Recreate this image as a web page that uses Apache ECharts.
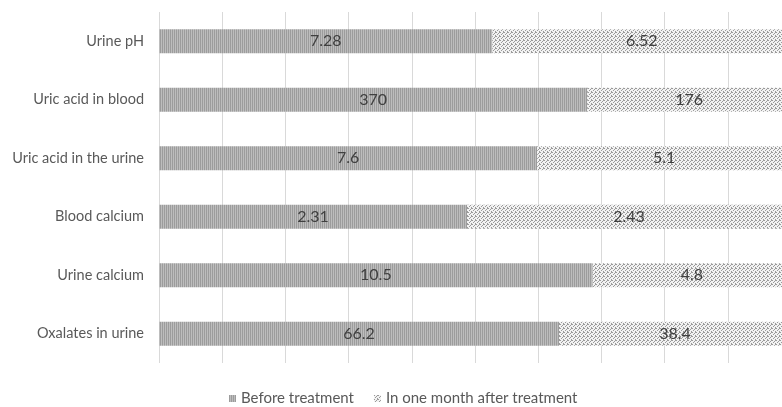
<!DOCTYPE html>
<html>
<head>
<meta charset="utf-8">
<script src="https://cdn.jsdelivr.net/npm/echarts@6/dist/echarts.min.js"></script>
<style>
  html, body { margin: 0; padding: 0; background: #fff; }
  #chart { width: 782px; height: 407px; }
</style>
</head>
<body>
<div id="chart"></div>
<script>
var categories = ['Urine pH', 'Uric acid in blood', 'Uric acid in the urine', 'Blood calcium', 'Urine calcium', 'Oxalates in urine'];
var before = [7.28, 370, 7.6, 2.31, 10.5, 66.2];
var after = [6.52, 176, 5.1, 2.43, 4.8, 38.4];

// little hatch tiles, like the office fill patterns
function makeTile(size, bg, fg, cells) {
    var c = document.createElement('canvas');
    c.width = size; c.height = size;
    var ctx = c.getContext('2d');
    ctx.fillStyle = bg;
    ctx.fillRect(0, 0, size, size);
    ctx.fillStyle = fg;
    cells.forEach(function (p) { ctx.fillRect(p[0], p[1], 1, 1); });
    return c;
}
var beforeTile = makeTile(2, '#bdbdbd', '#9c9c9c', [[0, 0], [0, 1]]);
var afterTile = makeTile(4, '#f2f2f2', '#9a9a9a', [[0, 0], [2, 1], [1, 2], [3, 3], [3, 0]]);

function pct(a, b, i) { return a[i] / (before[i] + after[i]) * 100; }

var beforeData = before.map(function (v, i) { return { value: pct(before, after, i), raw: v }; });
var afterData = after.map(function (v, i) { return { value: pct(after, before, i), raw: v }; });

var labelStyle = {
    show: true,
    position: 'inside',
    color: '#404040',
    fontSize: 16,
    fontFamily: 'Lato',
    formatter: function (p) { return p.data.raw; }
};

var chart = echarts.init(document.getElementById('chart'));
chart.setOption({
    animation: false,
    grid: { left: 159, top: 12, right: -9, height: 351, outerBoundsMode: 'none', containLabel: false },
    legend: {
        left: 224,
        top: 386,
        itemWidth: 7,
        itemHeight: 7,
        itemGap: 20,
        icon: 'rect',
        textStyle: { color: '#595959', fontSize: 15, fontFamily: 'Lato' },
        data: ['Before treatment', 'In one month after treatment']
    },
    xAxis: {
        type: 'value',
        min: 0,
        max: 100,
        interval: 10,
        axisLabel: { show: false },
        axisLine: { show: false },
        axisTick: { show: false },
        splitLine: { lineStyle: { color: '#d9d9d9', width: 1 } }
    },
    yAxis: {
        type: 'category',
        inverse: true,
        data: categories,
        axisLine: { show: false },
        axisTick: { show: false },
        axisLabel: { color: '#595959', fontSize: 14.5, fontFamily: 'Lato', margin: 15 }
    },
    series: [
        {
            name: 'Before treatment',
            type: 'bar',
            stack: 'all',
            barWidth: 24,
            itemStyle: { color: { image: beforeTile, repeat: 'repeat' } },
            label: labelStyle,
            data: beforeData
        },
        {
            name: 'In one month after treatment',
            type: 'bar',
            stack: 'all',
            barWidth: 24,
            itemStyle: { color: { image: afterTile, repeat: 'repeat' } },
            label: labelStyle,
            data: afterData
        }
    ]
});
</script>
</body>
</html>
